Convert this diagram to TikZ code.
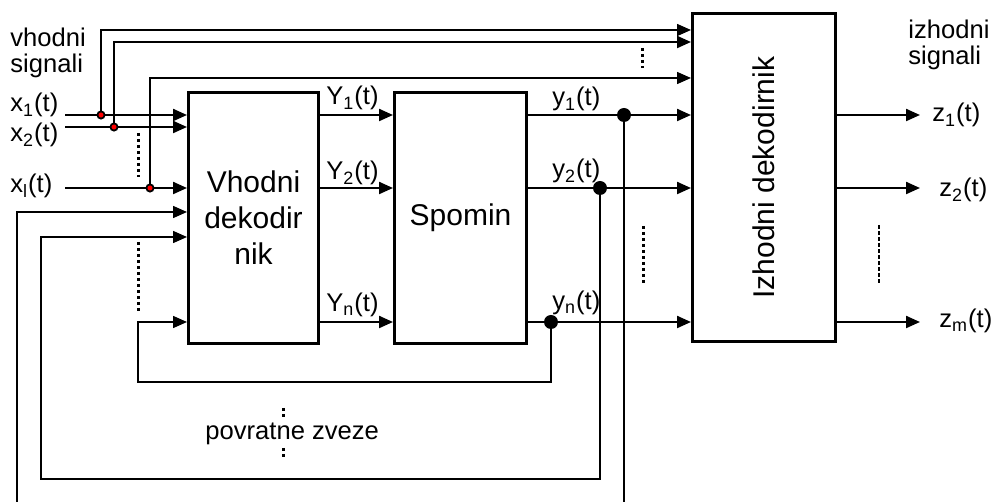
\documentclass[tikz,border=0pt]{standalone}
\usepackage{fontspec}
\setmainfont{Liberation Sans}
\usetikzlibrary{arrows.meta, positioning}

\begin{document}
\begin{tikzpicture}[
        x=0.5pt, y=-0.5pt,
        block/.style={rectangle, draw, line width=1.5pt, inner sep=0pt, align=center,
                      font=\fontsize{15}{18}\selectfont},
        blocktext/.style={font=\fontsize{15}{18}\selectfont, inner sep=0pt},
        lbl/.style={font=\fontsize{12.8}{13}\selectfont, inner sep=0pt, align=left},
        sig/.style={line width=1.1pt},
        fbline/.style={line width=0.75pt},
        arr/.style={-{Triangle[length=7pt, width=6pt]}},
        jdot/.style={circle, fill=black, inner sep=0pt, minimum size=7pt},
        rdot/.style={circle, draw=black, fill=red, line width=0.9pt, inner sep=0pt, minimum size=3.6pt},
        ellip/.style={line width=1.5pt, dash pattern=on 1.5pt off 1.5pt},
        zdash/.style={line width=0.7pt, dash pattern=on 2pt off 1pt}
    ]
    \useasboundingbox (0,0) rectangle (993,502);

    % Blocks
    \node[block, minimum width=65pt, minimum height=125.5pt] (vd) at (253.5,218) {Vhodni\\dekodir\\nik};
    \node[block, minimum width=66pt, minimum height=125.5pt] (sp) at (460.5,218) {Spomin};
    \node[block, minimum width=71.5pt, minimum height=164pt] (id) at (764,177.5) {};
    \node[blocktext, rotate=90] (idtxt) at (id.center) {Izhodni dekodirnik};

    % Input signals
    \coordinate (x1) at (65,115);
    \coordinate (x2) at (65,127);
    \coordinate (xl) at (65,188);
    \coordinate (j1) at (101,115);
    \coordinate (j2) at (114,127);
    \coordinate (j3) at (150,188);
    \coordinate (t1) at (101,30);
    \coordinate (t2) at (114,42);
    \coordinate (t3) at (150,78);
    \node[lbl, anchor=base west] (vhlbl) at (10,73) {vhodni\\signali};
    \node[lbl, anchor=base west] (x1lbl) at (10,112) {x\textsubscript{1}(t)};
    \node[lbl, anchor=base west] (x2lbl) at (10,142) {x\textsubscript{2}(t)};
    \node[lbl, anchor=base west] (xllbl) at (10,193) {x\textsubscript{l}(t)};
    \draw[sig, arr] (x1) -- (vd.west |- x1);
    \draw[sig, arr] (x2) -- (vd.west |- x2);
    \draw[sig, arr] (xl) -- (vd.west |- xl);
    \draw[fbline, arr] (j1) |- (id.west |- t1);
    \draw[sig, arr] (j2) |- (id.west |- t2);
    \draw[fbline, arr] (j3) |- (id.west |- t3);

    % Vhodni dekodirnik -> Spomin
    \coordinate (j4) at (624,115);
    \coordinate (j5) at (600,188);
    \coordinate (j6) at (551,322);
    \draw[sig, arr] (vd.east |- j4) -- (sp.west |- j4);
    \draw[sig, arr] (vd.east |- j5) -- (sp.west |- j5);
    \draw[sig, arr] (vd.east |- j6) -- (sp.west |- j6);
    \node[lbl, anchor=base west] (Y1lbl) at (326,105) {Y\textsubscript{1}(t)};
    \node[lbl, anchor=base west] (Y2lbl) at (326,180) {Y\textsubscript{2}(t)};
    \node[lbl, anchor=base west] (Ynlbl) at (326,312) {Y\textsubscript{n}(t)};

    % Spomin -> Izhodni dekodirnik
    \draw[sig, arr] (sp.east |- j4) -- (id.west |- j4);
    \draw[sig, arr] (sp.east |- j5) -- (id.west |- j5);
    \draw[sig, arr] (sp.east |- j6) -- (id.west |- j6);
    \node[lbl, anchor=base west] (y1lbl) at (552,106) {y\textsubscript{1}(t)};
    \node[lbl, anchor=base west] (y2lbl) at (552,178) {y\textsubscript{2}(t)};
    \node[lbl, anchor=base west] (ynlbl) at (552,310) {y\textsubscript{n}(t)};

    % Feedback
    \coordinate (b1) at (624,502);
    \coordinate (b2) at (17,502);
    \coordinate (f1) at (17,212);
    \coordinate (f2a) at (41,479);
    \coordinate (f2b) at (41,237);
    \coordinate (f3a) at (138,382);
    \draw[fbline] (j4) -- (b1);
    \draw[fbline, arr] (b2) |- (vd.west |- f1);
    \draw[fbline, arr] (j5) |- (f2a) |- (vd.west |- f2b);
    \draw[fbline, arr] (j6) |- (f3a) |- (vd.west |- j6);
    \node[lbl, anchor=base west] (fblbl) at (205,440) {povratne zveze};

    % Outputs
    \coordinate (z1) at (920,115);
    \coordinate (z2) at (920,188);
    \coordinate (zm) at (920,322);
    \draw[sig, arr] (id.east |- z1) -- (z1);
    \draw[sig, arr] (id.east |- z2) -- (z2);
    \draw[sig, arr] (id.east |- zm) -- (zm);
    \node[lbl, anchor=base west] (izlbl) at (908,65) {izhodni\\signali};
    \node[lbl, anchor=base west] (z1lbl) at (932,122) {z\textsubscript{1}(t)};
    \node[lbl, anchor=base west] (z2lbl) at (939,197) {z\textsubscript{2}(t)};
    \node[lbl, anchor=base west] (zmlbl) at (939,328) {z\textsubscript{m}(t)};

    % Ellipses
    \draw[ellip] (138,133) -- (138,177);
    \draw[ellip] (138,242) -- (138,312);
    \draw[ellip] (642,48) -- (642,68);
    \draw[ellip] (643,226) -- (643,285);
    \draw[ellip] (283,408) -- (283,420);
    \draw[ellip] (283,448) -- (283,460);
    \draw[zdash] (879,225) -- (879,285);

    % Junction dots
    \node[rdot] (j1dot) at (j1) {};
    \node[rdot] (j2dot) at (j2) {};
    \node[rdot] (j3dot) at (j3) {};
    \node[jdot] (j4dot) at (j4) {};
    \node[jdot] (j5dot) at (j5) {};
    \node[jdot] (j6dot) at (j6) {};
\end{tikzpicture}
\end{document}
